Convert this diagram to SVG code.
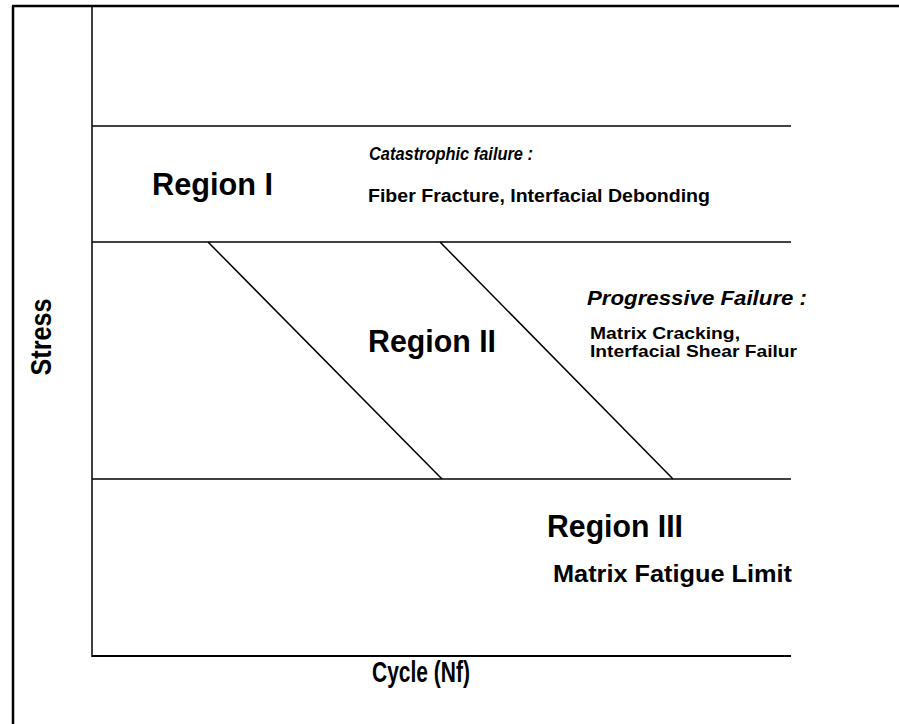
<svg xmlns="http://www.w3.org/2000/svg" width="899" height="724" viewBox="0 0 899 724">
<style>
.ln{stroke:#000;stroke-width:1.5;fill:none}
.t{font-family:"Liberation Sans",Arial,sans-serif;font-weight:bold;fill:#000}
.reg{font-size:31px}
.it{font-style:italic}
</style>
<rect width="899" height="724" fill="#fff"/>
<g id="frame">
<line x1="13" y1="6" x2="13" y2="724" stroke="#000" stroke-width="2.5"/>
<line x1="12" y1="6" x2="899" y2="6" stroke="#000" stroke-width="2.5"/>
</g>
<g id="connectors">
<line class="ln" x1="92" y1="6" x2="92" y2="657"/>
<line class="ln" x1="92" y1="126" x2="791" y2="126"/>
<line class="ln" x1="92" y1="242" x2="791" y2="242"/>
<line class="ln" x1="92" y1="479" x2="791" y2="479"/>
<line x1="92" y1="656" x2="791" y2="656" stroke="#000" stroke-width="2"/>
<line class="ln" x1="208" y1="242" x2="442" y2="479"/>
<line class="ln" x1="440" y1="242" x2="673" y2="479"/>
</g>
<g id="region1">
<text class="t reg" x="152" y="195" textLength="121" lengthAdjust="spacingAndGlyphs">Region I</text>
<text class="t it" x="369" y="160" font-size="19" textLength="164" lengthAdjust="spacingAndGlyphs">Catastrophic failure :</text>
<text class="t" x="368" y="202" font-size="18" textLength="342" lengthAdjust="spacingAndGlyphs">Fiber Fracture, Interfacial Debonding</text>
</g>
<g id="region2">
<text class="t reg" x="368" y="352" textLength="128" lengthAdjust="spacingAndGlyphs">Region II</text>
<text class="t it" x="587" y="305" font-size="20" textLength="220" lengthAdjust="spacingAndGlyphs">Progressive Failure :</text>
<text class="t" x="590" y="339" font-size="17" textLength="150" lengthAdjust="spacingAndGlyphs">Matrix Cracking,</text>
<text class="t" x="590" y="357" font-size="17" textLength="207" lengthAdjust="spacingAndGlyphs">Interfacial Shear Failur</text>
</g>
<g id="region3">
<text class="t reg" x="547" y="537" textLength="136" lengthAdjust="spacingAndGlyphs">Region III</text>
<text class="t" x="553" y="582" font-size="23" textLength="239" lengthAdjust="spacingAndGlyphs">Matrix Fatigue Limit</text>
</g>
<g id="axes-labels">
<text class="t" x="421" y="682" font-size="29" text-anchor="middle" textLength="98" lengthAdjust="spacingAndGlyphs">Cycle (Nf)</text>
<text class="t" transform="translate(51,337) rotate(-90)" font-size="30" text-anchor="middle" textLength="77" lengthAdjust="spacingAndGlyphs">Stress</text>
</g>
</svg>
